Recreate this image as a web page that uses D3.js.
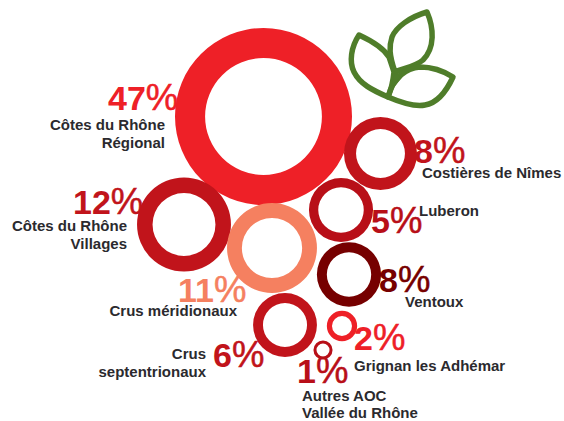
<!DOCTYPE html>
<html><head><meta charset="utf-8">
<style>html,body{margin:0;padding:0;background:#fff}svg{display:block}</style>
<script src="https://cdn.jsdelivr.net/npm/d3@7"></script></head>
<body><svg id="c" width="564" height="421"></svg>
<script>
const categories=["Côtes du Rhône Régional","Côtes du Rhône Villages","Crus méridionaux","Costières de Nîmes","Ventoux","Crus septentrionaux","Luberon","Grignan les Adhémar","Autres AOC Vallée du Rhône"];
const shares=[47,12,11,8,8,6,5,2,1];
const colors=["#ee2027","#c1141b","#f58060","#c1141b","#760000","#c1141b","#b80f18","#ee2027","#b80f18"];
// placement of each ring (the chart is a hand-arranged cluster)
const centerX=[263.5,184,272,380.5,349,285,341,342,323];
const centerY=[116.5,224.5,248,153.5,274.5,325,210,326,350];
const radiusAdjust=[1,1.05,1.05,1,.88,1.01,1.11,.83,.74];
const holeRatio=[.66,.67,.67,.67,.69,.69,.71,.66,.68];
const labelLines=[["Côtes du Rhône","Régional"],["Côtes du Rhône","Villages"],["Crus méridionaux"],["Costières de Nîmes"],["Ventoux"],["Crus","septentrionaux"],["Luberon"],["Grignan les Adhémar"],["Autres AOC","Vallée du Rhône"]];
const labelAnchor=["end","end","end","start","start","end","start","start","start"];
const labelX=[165,127,237,422,405,206,419,354,302];
const labelY=[130,231,316,178,307,359,216,371,401];
const labelLeading=[18,18,18,18,18,18,18,18,16.5];
const pctX=[108,73,178,414,379,213,371,354,297];
const pctY=[110,214,302,163,292,367,233,350,383];

const svg=d3.select("#c");
const r=d3.scaleSqrt().domain([0,47]).range([0,88.5]);
const rows=shares.map((v,i)=>({v,i,name:categories[i]}));
const ringR=d=>r(d.v)*radiusAdjust[d.i];
const arc=d3.arc().startAngle(0).endAngle(2*Math.PI);
svg.append("g").selectAll("path").data(rows).join("path")
  .attr("transform",d=>`translate(${centerX[d.i]},${centerY[d.i]})`)
  .attr("fill",d=>colors[d.i])
  .attr("d",d=>arc({innerRadius:ringR(d)*holeRatio[d.i],outerRadius:ringR(d)}));

const pct=svg.append("g").selectAll("text").data(rows).join("text")
  .attr("x",d=>pctX[d.i]).attr("y",d=>pctY[d.i])
  .attr("fill",d=>colors[d.i])
  .attr("font-family","'Liberation Sans',Arial,sans-serif").attr("font-size",34);
pct.append("tspan").attr("font-weight",700).text(d=>d.v);
pct.append("tspan").attr("font-weight",400).attr("font-size",36.5).attr("stroke",d=>colors[d.i]).attr("stroke-width",.5).text("%");

const lab=svg.append("g").selectAll("text").data(rows).join("text")
  .attr("text-anchor",d=>labelAnchor[d.i])
  .attr("fill","#2b2a2e").attr("font-weight",700)
  .attr("font-family","'Liberation Sans',Arial,sans-serif").attr("font-size",15);
lab.selectAll("tspan").data(d=>labelLines[d.i].map((t,k)=>({t,k,d}))).join("tspan")
  .attr("x",o=>labelX[o.d.i]).attr("y",o=>labelY[o.d.i]+o.k*labelLeading[o.d.i]).text(o=>o.t);

// leaf ornament
const leaf=svg.append("g").attr("fill","none").attr("stroke","#4f7d2a").attr("stroke-width",5.5).attr("stroke-linejoin","round").attr("stroke-linecap","round");
leaf.append("path").attr("d","M359,35C372,41 384,49 389,57L394,72C393,82 391,90 388,97C372,90 360,84 354,72C349,62 351,47 359,35Z");
leaf.append("path").attr("d","M427,12C410,17 396,27 392,37C389,46 389,55 395,72C405,68 416,66 423,60C435,48 434,28 427,12Z");
leaf.append("path").attr("d","M453,77C442,70 430,67 420,67C406,68 393,78 388,97C402,103 415,107 425,105C438,103 447,90 453,77Z");
leaf.append("path").attr("fill","#4f7d2a").attr("stroke-width",2).attr("d","M394,72L402,76L392,88L388,96Z");
</script></body></html>
